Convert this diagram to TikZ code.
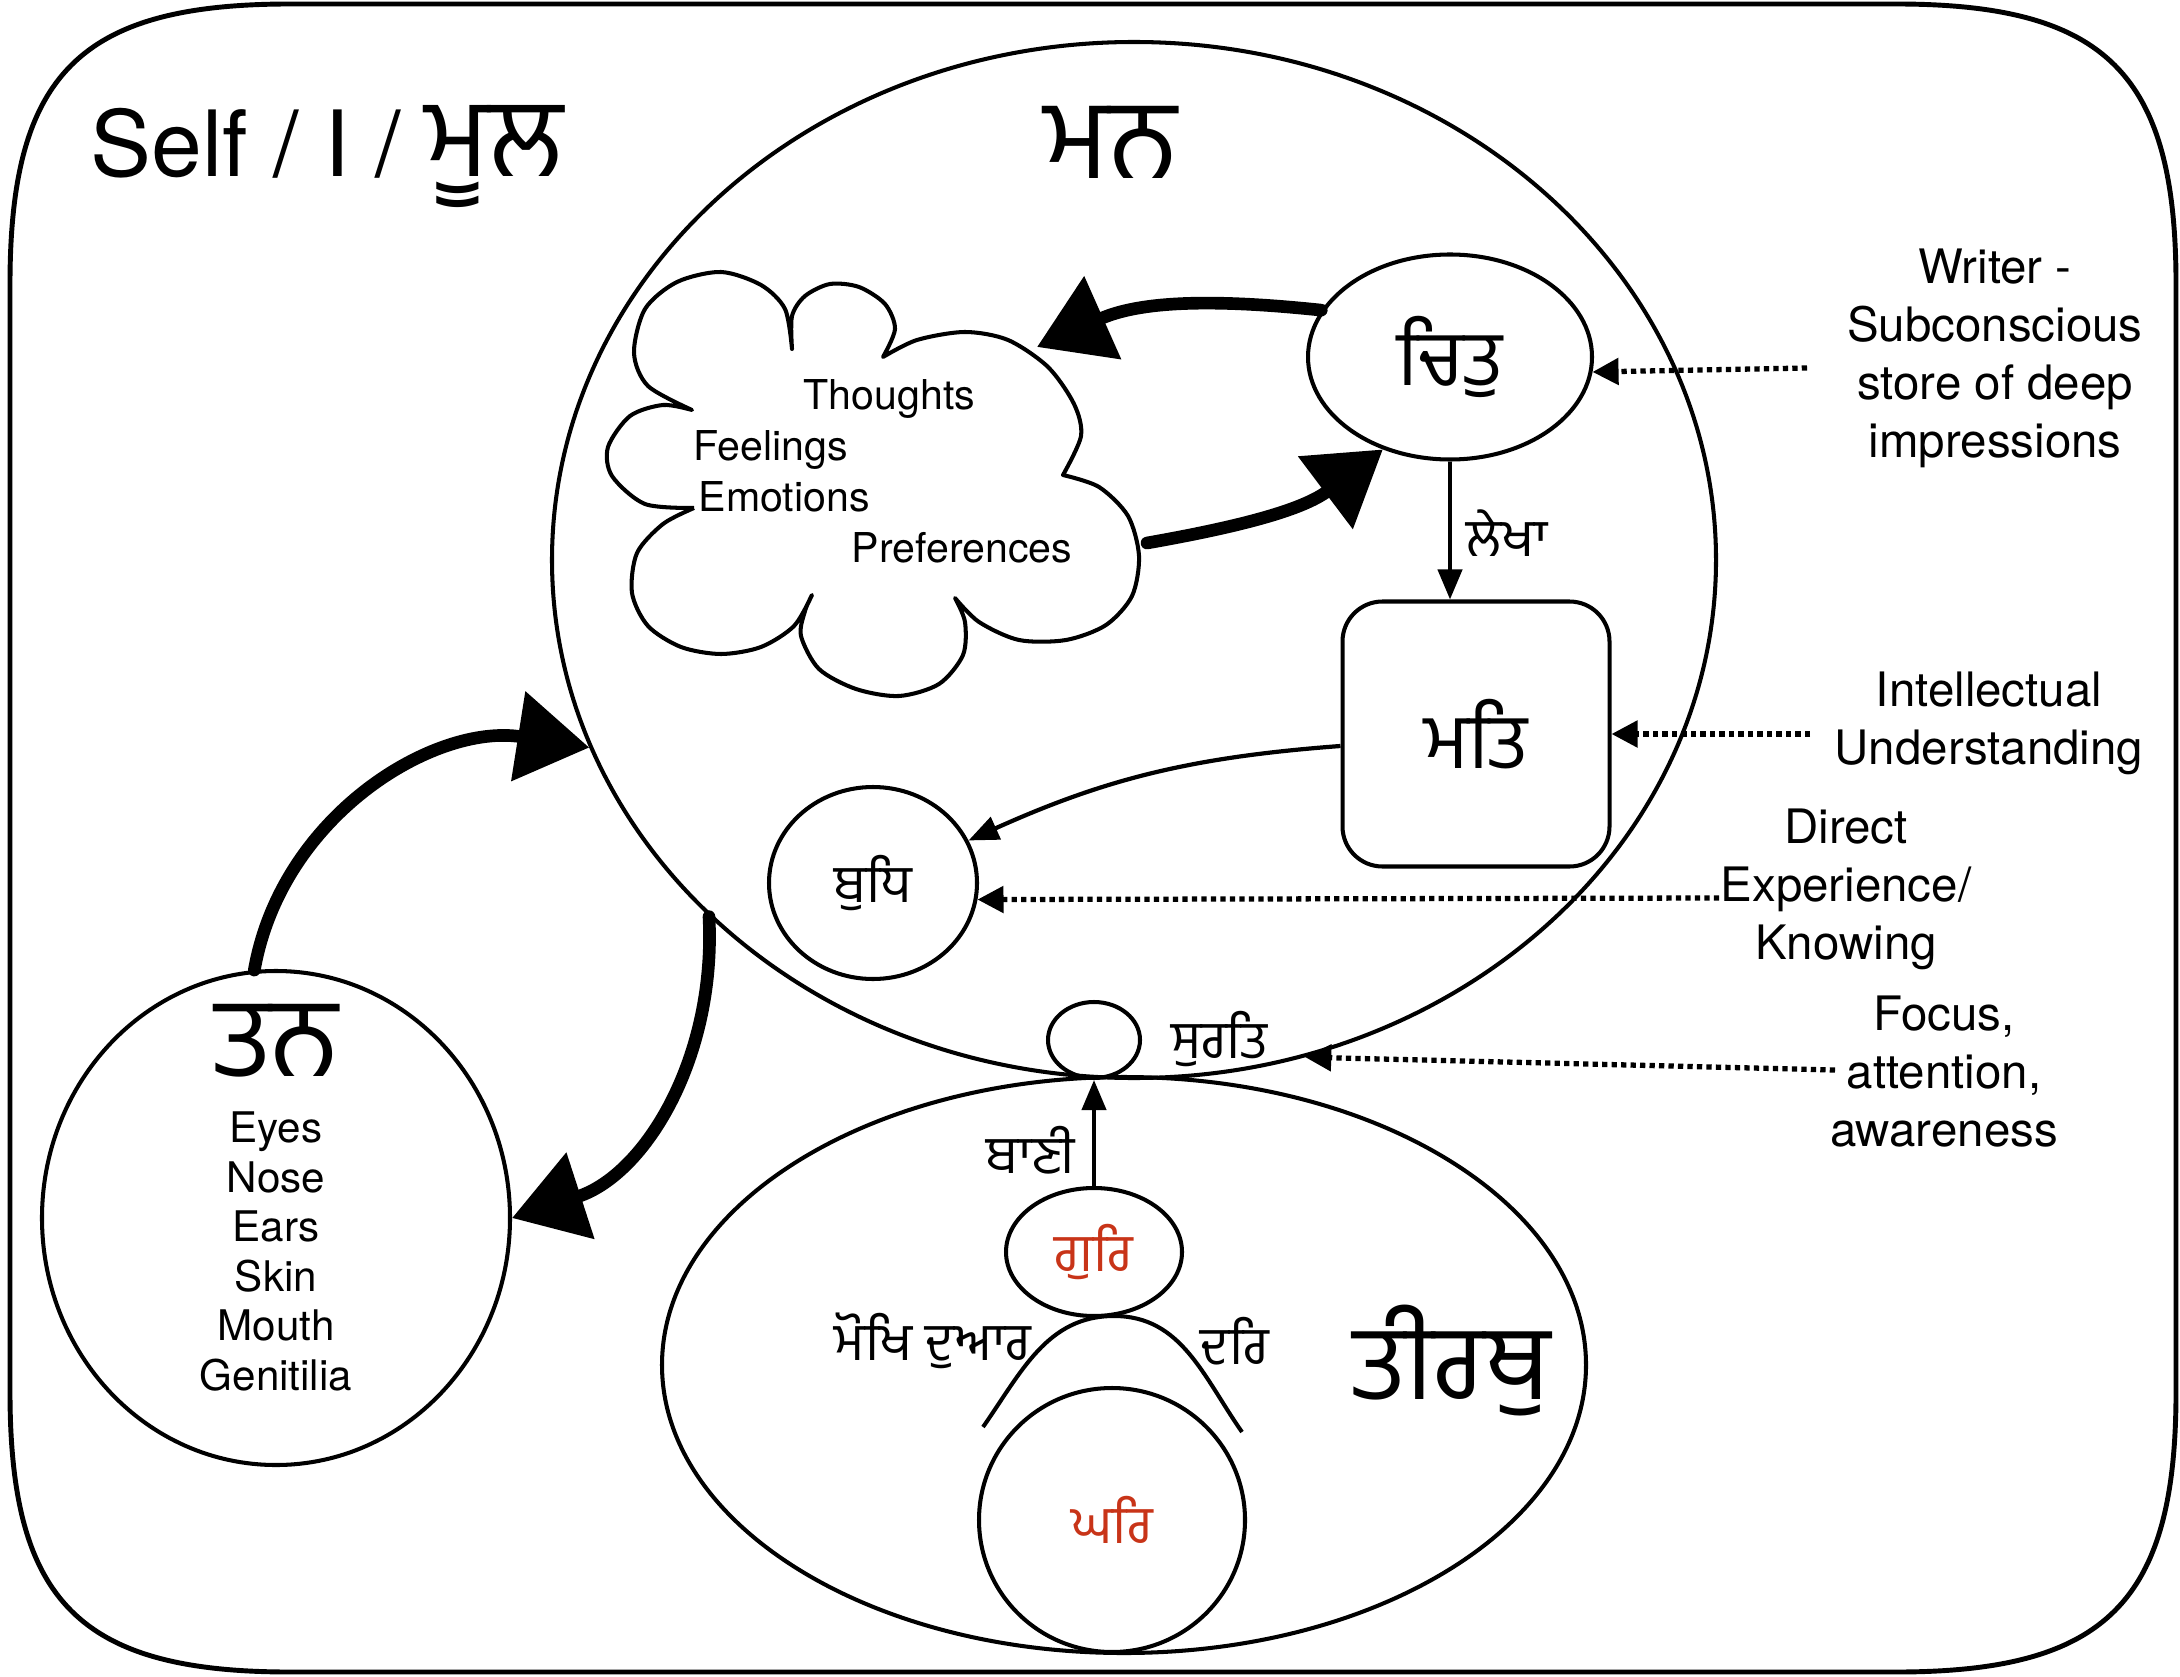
\documentclass[tikz,border=0pt]{standalone}
\usepackage{fontspec}
\setmainfont{TeX Gyre Heros}
\newfontfamily\gurfont[Script=Gurmukhi]{Hind Jalandhar}
\usetikzlibrary{shapes.geometric,arrows.meta,positioning}
\definecolor{gurred}{RGB}{200,52,24}
\tikzset{
  frame/.style={line width=1.4pt},
  blob/.style={draw,ellipse,line width=1.15pt,inner sep=0pt},
  cloudline/.style={line width=1.15pt,line join=round},
  link/.style={-{Triangle[length=0.3cm,width=0.24cm]},line width=1.2pt},
  dotarrow/.style={-{Triangle[length=0.26cm,width=0.26cm]},line width=1.5pt,dash pattern=on 1.5pt off 1.2pt},
  sketch/.style={-{Triangle[length=0.72cm,width=0.88cm]},line width=3.6pt,line cap=round},
  big/.style={font=\gurfont\fontsize{32}{36}\selectfont,inner sep=0pt,text depth=0pt},
  mid/.style={font=\gurfont\fontsize{22}{26}\selectfont},
  lbl/.style={font=\gurfont\fontsize{15}{18}\selectfont,inner sep=0pt},
  cloudtxt/.style={font=\fontsize{11.7}{14}\selectfont,anchor=base west,inner sep=0pt},
  note/.style={align=center,anchor=north,inner sep=0pt,font=\fontsize{13.5}{16.5}\selectfont}
}
\begin{document}
\begin{tikzpicture}
  \useasboundingbox (0,0) rectangle (21.8,16.76);
  % outer frame
  \draw[frame] (0.10,13.92) .. controls (0.10,16.02) and (0.80,16.72) .. (2.90,16.72)
    -- (18.96,16.72) .. controls (21.06,16.72) and (21.76,16.02) .. (21.76,13.92)
    -- (21.76,2.84) .. controls (21.76,0.74) and (21.06,0.04) .. (18.96,0.04)
    -- (2.90,0.04) .. controls (0.80,0.04) and (0.10,0.74) .. (0.10,2.84) -- cycle;
  \node[anchor=base west,inner sep=0pt,font=\fontsize{26}{30}\selectfont] (self) at (0.90,14.99)
    {Self / I / {\gurfont\fontsize{31.5}{34}\selectfont ਮੂਲ}};

  % man
  \node[blob,minimum width=11.64cm,minimum height=10.36cm] (man) at (11.34,11.16) {};
  \node[big] (mantxt) at (11.11,15.34) {ਮਨ};

  % cloud
  \draw[cloudline] plot[smooth] coordinates {(6.94,11.68) (6.45,11.72) (6.12,12.00) (6.08,12.29) (6.30,12.60) (6.63,12.71) (6.92,12.66)}
    -- plot[smooth] coordinates {(6.92,12.66) (6.48,12.90) (6.34,13.23) (6.45,13.67) (6.77,13.94) (7.21,14.04) (7.61,13.91) (7.85,13.67) (7.92,13.27)}
    -- plot[smooth] coordinates {(7.92,13.27) (7.92,13.60) (8.05,13.80) (8.30,13.92) (8.59,13.89) (8.85,13.72) (8.95,13.47) (8.83,13.19)}
    -- plot[smooth] coordinates {(8.83,13.19) (9.17,13.36) (9.65,13.44) (10.08,13.36) (10.48,13.09) (10.74,12.72) (10.81,12.40) (10.63,12.01)}
    -- plot[smooth] coordinates {(10.63,12.01) (10.99,11.89) (11.28,11.60) (11.39,11.20) (11.32,10.80) (11.06,10.51) (10.66,10.36) (10.19,10.36) (9.79,10.54) (9.55,10.78)}
    -- plot[smooth] coordinates {(9.55,10.78) (9.65,10.54) (9.63,10.21) (9.39,9.92) (8.99,9.80) (8.56,9.87) (8.19,10.07) (8.01,10.40) (8.05,10.65) (8.12,10.81)}
    -- plot[smooth] coordinates {(8.12,10.81) (7.94,10.50) (7.61,10.29) (7.21,10.22) (6.81,10.29) (6.48,10.50) (6.32,10.83) (6.37,11.23) (6.63,11.52) (6.94,11.68)};
  \coordinate (cloudA) at (10.37,13.29);
  \coordinate (cloudB) at (11.47,11.33);
  \node[cloudtxt] (thoughts) at (8.03,12.66) {Thoughts};
  \node[cloudtxt] (feelings) at (6.93,12.15) {Feelings};
  \node[cloudtxt] (emotions) at (6.98,11.65) {Emotions};
  \node[cloudtxt] (prefs) at (8.51,11.14) {Preferences};

  \node[blob,mid,minimum width=2.84cm,minimum height=2.05cm] (chit) at (14.50,13.19) {ਚਿਤੁ};
  \node[draw,mid,rounded corners=0.4cm,line width=1.15pt,minimum width=2.67cm,minimum height=2.65cm] (mat) at (14.76,9.42) {ਮਤਿ};
  \node[blob,lbl,minimum width=2.08cm,minimum height=1.92cm] (budh) at (8.73,7.93) {ਬੁਧਿ};
  \node[blob,minimum width=0.92cm,minimum height=0.76cm] (surat) at (10.94,6.36) {};
  \node[lbl] (surattxt) at (12.19,6.37) {ਸੁਰਤਿ};
  \node[lbl] (lekha) at (15.07,11.43) {ਲੇਖਾ};

  % tirath
  \node[blob,minimum width=9.24cm,minimum height=5.76cm] (tirath) at (11.24,3.11) {};
  \node[big,font=\gurfont\fontsize{30}{34}\selectfont] (tirathtxt) at (14.52,3.24) {ਤੀਰਥੁ};
  \node[blob,lbl,text=gurred,minimum width=1.76cm,minimum height=1.28cm] (gur) at (10.94,4.24) {ਗੁਰਿ};
  \node[blob,lbl,text=gurred,minimum width=2.66cm,minimum height=2.64cm] (ghar) at (11.12,1.56) {ਘਰਿ};
  \draw[line width=1.15pt] (9.83,2.49) to[out=55,in=180] (11.14,3.60) to[out=0,in=125] (12.42,2.44);
  \node[lbl] (mokh) at (9.33,3.35) {ਮੋਖਿ ਦੁਆਰ};
  \node[lbl] (dar) at (12.35,3.35) {ਦਰਿ};
  \node[lbl] (bani) at (10.31,5.26) {ਬਾਣੀ};

  % tan
  \node[blob,minimum width=4.68cm,minimum height=4.94cm] (tan) at (2.76,4.58) {};
  \node[big] (tantxt) at (2.77,6.36) {ਤਨ};
  \node[align=center,anchor=north,inner sep=0pt,font=\fontsize{12}{14.1}\selectfont] (senses) at (2.76,5.65)
    {Eyes\\Nose\\Ears\\Skin\\Mouth\\Genitilia};

  % notes on the right
  \node[note] (writer) at (19.95,14.28) {Writer -\\Subconscious\\store of deep\\impressions};
  \node[note] (intel) at (19.89,10.05) {Intellectual\\Understanding};
  \node[note] (direct) at (18.46,8.68) {Direct\\Experience/\\Knowing};
  \node[note] (focus) at (19.44,6.81) {Focus,\\attention,\\awareness};
  \coordinate (writerTail) at (18.07,13.08);
  \coordinate (intelTail) at (18.10,9.42);
  \coordinate (directTail) at (17.19,7.78);
  \coordinate (focusTail) at (18.35,6.06);

  % connectors
  \draw[link] (chit.south) -- (chit.south |- mat.north);
  \draw[link] ([yshift=-0.12cm]mat.west) to[bend right=10] (budh.24);
  \draw[link] (gur.north) -- (surat.south);
  \draw[dotarrow] (writerTail) -- (chit.-6);
  \draw[dotarrow] (intelTail) -- (mat.east);
  \draw[dotarrow] (directTail) -- (budh.-9);
  \draw[dotarrow] (focusTail) -- (man.-71);
  \draw[sketch] (chit.160) to[out=174,in=24] (cloudA);
  \draw[sketch] (cloudB) to[out=10,in=217] (chit.234);
  \draw[sketch] (tan.95) to[out=80,in=171] (man.199);
  \draw[sketch] (man.220) to[out=-87,in=18] (tan.east);
\end{tikzpicture}
\end{document}
